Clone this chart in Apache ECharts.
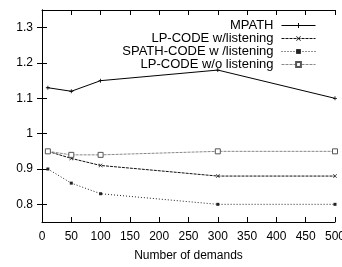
<!DOCTYPE html>
<html>
<head>
<meta charset="utf-8">
<script src="https://cdn.jsdelivr.net/npm/echarts@6/dist/echarts.min.js"></script>
<style>
  html, body { margin: 0; padding: 0; background: #fff; }
  #chart { width: 342px; height: 267px; }
</style>
</head>
<body>
<div id="chart"></div>
<script>
const demands = [10, 50, 100, 300, 500];
const mpath = [1.13, 1.12, 1.15, 1.18, 1.10];
const lpListen = [0.95, 0.93, 0.91, 0.88, 0.88];
const spathListen = [0.90, 0.86, 0.83, 0.80, 0.80];
const lpNoListen = [0.95, 0.94, 0.94, 0.95, 0.95];
const yTicks = [0.8, 0.9, 1.0, 1.1, 1.2, 1.3];

const pair = (xs, ys) => xs.map((x, i) => [x, ys[i]]);

const chart = echarts.init(document.getElementById('chart'));
const font = 'Liberation Sans, Arial, sans-serif';

const yCommon = {
  type: 'value', min: 0.75, max: 1.35,
  axisLine: { show: true, lineStyle: { color: '#000', width: 1 } },
  axisTick: { show: true, inside: true, length: 5, customValues: yTicks, lineStyle: { color: '#000' } },
  splitLine: { show: false }
};
const xCommon = {
  type: 'value', min: 0, max: 500, interval: 50,
  axisLine: { show: true, onZero: false, lineStyle: { color: '#000', width: 1 } },
  axisTick: { show: true, inside: true, length: 5, lineStyle: { color: '#000' } },
  splitLine: { show: false }
};

chart.setOption({
  animation: false,
  grid: { left: 42, right: 7, top: 10, bottom: 45, containLabel: false, outerBoundsMode: 'none' },
  legend: {
    orient: 'vertical', right: 21, top: 14, align: 'right',
    itemWidth: 34, itemHeight: 6, itemGap: 0,
    lineStyle: { width: 1 },
    textStyle: { fontFamily: font, fontSize: 13, lineHeight: 13, color: '#000', padding: [0, 3, 0, 0] },
    data: ['MPATH', 'LP-CODE w/listening', 'SPATH-CODE w /listening', 'LP-CODE w/o listening']
  },
  xAxis: [
    Object.assign({}, xCommon, {
      position: 'bottom',
      name: 'Number of demands', nameLocation: 'middle', nameGap: 28,
      nameTextStyle: { fontFamily: font, fontSize: 12, color: '#000' },
      axisLabel: { fontFamily: font, fontSize: 12, color: '#000', margin: 9 }
    }),
    Object.assign({}, xCommon, { position: 'top', axisLabel: { show: false } })
  ],
  yAxis: [
    Object.assign({}, yCommon, {
      position: 'left',
      axisLabel: {
        fontFamily: font, fontSize: 12, color: '#000', margin: 9, customValues: yTicks,
        formatter: v => (Math.round(v * 10) / 10).toString()
      }
    }),
    Object.assign({}, yCommon, { position: 'right', axisLabel: { show: false } })
  ],
  series: [
    {
      name: 'MPATH', type: 'line', data: pair(demands, mpath),
      symbol: 'path://M4,0H6V4H10V6H6V10H4V6H0V4H4Z', symbolSize: 4,
      lineStyle: { color: '#000', width: 1 }, itemStyle: { color: '#000' }
    },
    {
      name: 'LP-CODE w/listening', type: 'line', data: pair(demands, lpListen),
      symbol: 'path://M0,1L1,0L5,4L9,0L10,1L6,5L10,9L9,10L5,6L1,10L0,9L4,5Z', symbolSize: 4,
      lineStyle: { color: '#111', width: 1, type: [3, 1] }, itemStyle: { color: '#111' }
    },
    {
      name: 'SPATH-CODE w /listening', type: 'line', data: pair(demands, spathListen),
      symbol: 'rect', symbolSize: 3,
      lineStyle: { color: '#222', width: 1, type: [1, 2] }, itemStyle: { color: '#222' }
    },
    {
      name: 'LP-CODE w/o listening', type: 'line', data: pair(demands, lpNoListen),
      symbol: 'rect', symbolSize: 5,
      lineStyle: { color: '#888', width: 1, type: [3, 1] },
      itemStyle: { color: '#fff', borderColor: '#555', borderWidth: 1 }
    }
  ]
});
</script>
</body>
</html>
